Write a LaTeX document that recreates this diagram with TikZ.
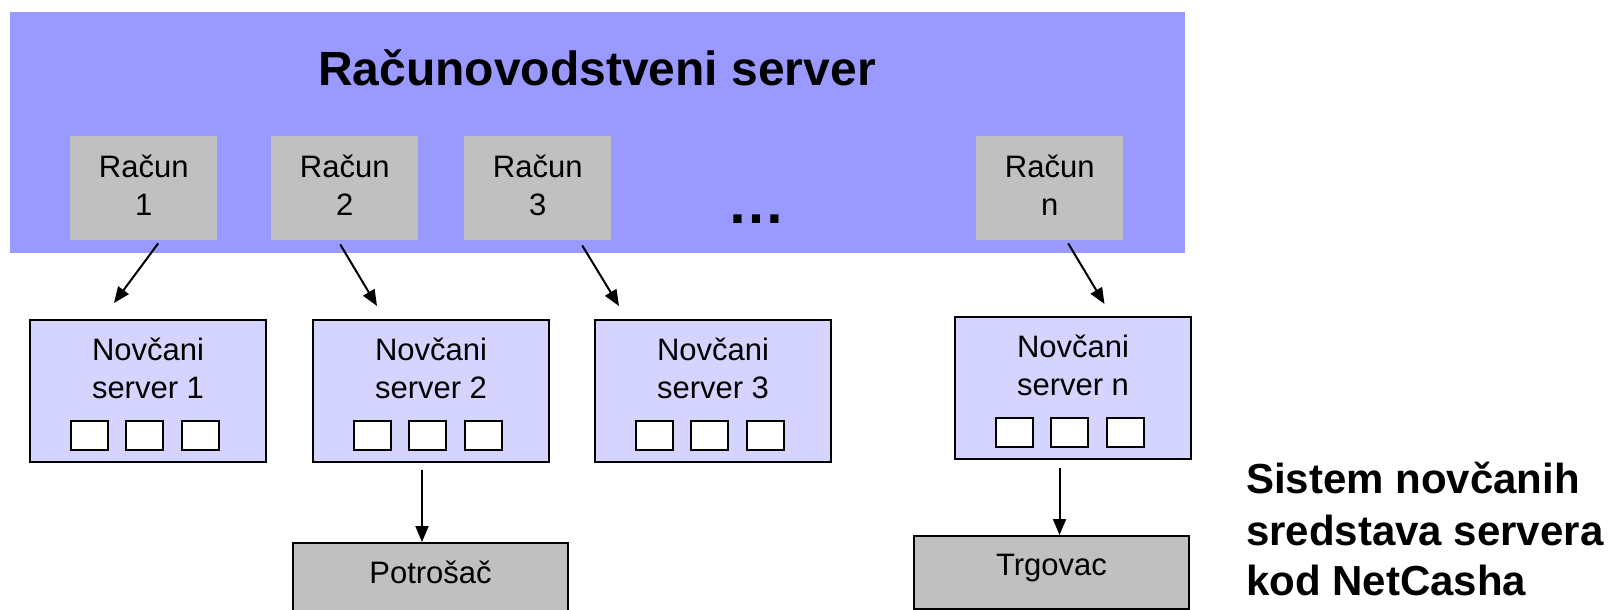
\documentclass[tikz,border=0pt]{standalone}
\usepackage{fontspec}
\setmainfont{Liberation Sans}
\usetikzlibrary{arrows.meta}

\definecolor{hostblue}{RGB}{153,153,255}
\definecolor{acctgray}{RGB}{192,192,192}
\definecolor{cashlav}{RGB}{212,212,255}

\begin{document}
\begin{tikzpicture}[x=1pt,y=-1pt,
  acct/.style={fill=acctgray, minimum width=147pt, minimum height=104pt,
    inner sep=0pt, anchor=north west},
  cashsrv/.style={draw=black, line width=2pt, fill=cashlav, minimum width=236pt,
    minimum height=142pt, inner sep=0pt, anchor=north west},
  slot/.style={draw=black, line width=2pt, fill=white, minimum width=37pt,
    minimum height=29pt, inner sep=0pt},
  party/.style={draw=black, line width=2pt, fill=acctgray, minimum width=275pt,
    minimum height=73pt, inner sep=0pt, anchor=north west},
  txt/.style={font=\fontsize{31}{38}\selectfont, inner sep=0pt, anchor=base},
  arr/.style={line width=2pt, -{Triangle[length=16pt,width=13pt]}},
]
\clip (0,0) rectangle (1611,610);

% accounting server with its accounts
\node[fill=hostblue, minimum width=1175pt, minimum height=241pt, inner sep=0pt,
  anchor=north west] (host) at (10,12) {};
\node[font=\fontsize{48}{58}\selectfont\bfseries, anchor=base, inner sep=0pt]
  (title) at (597,85) {Računovodstveni server};

\foreach \nm/\x/\lab in {r1/70/1, r2/271/2, r3/464/3, rn/976/n} {
  \node[acct] (\nm) at (\x,136) {};
  \node[txt] at ([yshift=-41pt]\nm.north) {Račun};
  \node[txt] at ([yshift=-79pt]\nm.north) {\lab};
}
\node[font=\fontsize{58}{60}\selectfont\bfseries, anchor=base, inner sep=0pt]
  (dots) at (756,223) {…};

% cash servers
\foreach \nm/\x/\y/\lab in {n1/29/319/1, n2/312/319/2, n3/594/319/3, nn/954/316/n} {
  \node[cashsrv] (\nm) at (\x,\y) {};
  \node[txt] at ([yshift=-41pt]\nm.north) {Novčani};
  \node[txt] at ([yshift=-79pt]\nm.north) {server \lab};
  \foreach \dx in {-59,-4,52}
    \node[slot] at ([xshift=\dx pt, yshift=-116pt]\nm.north) {};
}

% customer and merchant
\node[party] (pot) at (292,542) {};
\node[txt] at ([yshift=-41pt]pot.north) {Potrošač};
\node[party] (trg) at (913,535) {};
\node[txt] at ([yshift=-40pt]trg.north) {Trgovac};

% connectors
\draw[arr] ([xshift=14.5pt,yshift=-3pt]r1.south) -- ([xshift=-34pt,yshift=16pt]n1.north);
\draw[arr] ([xshift=-4.5pt,yshift=-4pt]r2.south) -- ([xshift=-54pt,yshift=13pt]n2.north);
\draw[arr] ([xshift=44.5pt,yshift=-5pt]r3.south) -- ([xshift=-94pt,yshift=13pt]n3.north);
\draw[arr] ([xshift=18.5pt,yshift=-3pt]rn.south) -- ([xshift=31.5pt,yshift=12pt]nn.north);

\coordinate (c2) at ([xshift=-9pt]n2.south);
\draw[arr] ([yshift=-7pt]c2) -- (c2 |- pot.north);
\coordinate (cn) at ([xshift=-13.5pt]nn.south);
\draw[arr] ([yshift=-8pt]cn) -- (cn |- trg.north);

% caption
\begin{scope}[every node/.style={font=\fontsize{42}{51}\selectfont\bfseries,
    anchor=base west, inner sep=0pt}]
  \node (cap1) at (1246,493) {Sistem novčanih};
  \node (cap2) at (1246,545) {sredstava servera};
  \node (cap3) at (1246,595) {kod NetCasha};
\end{scope}
\end{tikzpicture}
\end{document}
